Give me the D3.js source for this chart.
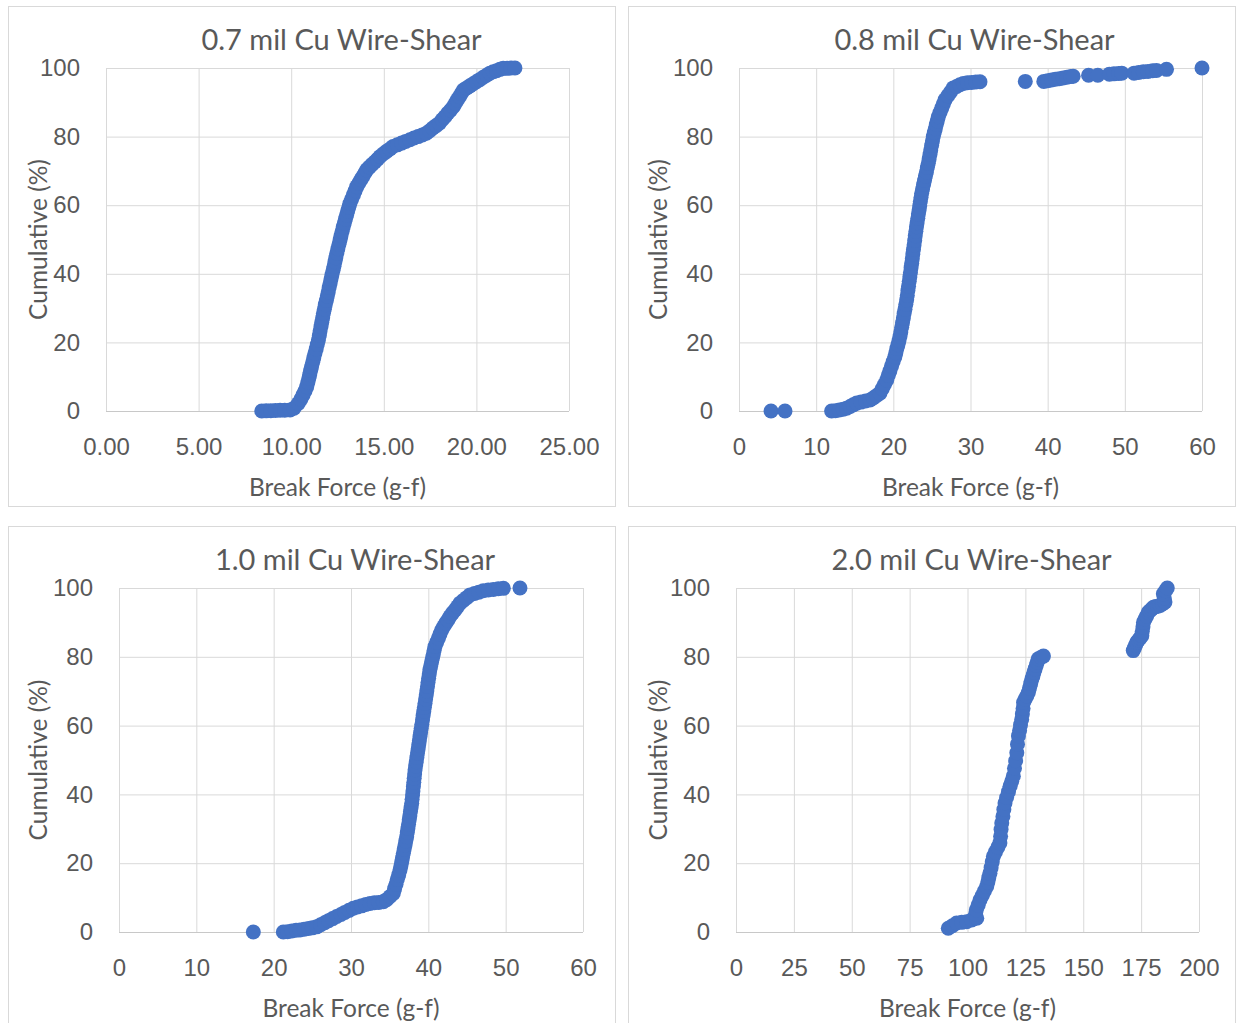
<!DOCTYPE html>
<html>
<head>
<meta charset="utf-8">
<script src="https://cdn.jsdelivr.net/npm/d3@7"></script>
<style>
  body { margin: 0; background: #fff; }
  svg { display: block; font-family: Lato, "Open Sans", sans-serif; }
  .grid line { stroke: #d9d9d9; stroke-width: 1; }
  .ticks text { font-size: 24px; fill: #595959; }
  .title { font-size: 29px; fill: #595959; }
  .axis-title { font-size: 24.5px; fill: #595959; }
</style>
</head>
<body>
<svg id="chart" width="1236" height="1023"></svg>
<script>
/* global d3 */

// [break force (g-f), cumulative (%)]
const shear07 = [
  [8.41, 0], [8.65, 0.05], [8.9, 0.1], [9.15, 0.15], [9.4, 0.2], [9.65, 0.25], [9.94, 0.3],
  [10.15, 0.8], [10.38, 2.2], [10.52, 3.4], [10.64, 4.7], [10.75, 5.9], [10.84, 7.1],
  [10.9, 8.3], [10.95, 9.5], [11.0, 10.6], [11.05, 11.8], [11.1, 12.9],
  [11.16, 14.2], [11.22, 15.5], [11.28, 16.8], [11.35, 18.1], [11.41, 19.4], [11.47, 20.7],
  [11.52, 22], [11.56, 23.3], [11.61, 24.6], [11.65, 25.9], [11.7, 27.2], [11.74, 28.5],
  [11.79, 29.7], [11.84, 31], [11.9, 32.2], [11.95, 33.5], [12.0, 34.7], [12.05, 36], [12.1, 37.2],
  [12.15, 38.5], [12.2, 39.7], [12.26, 41], [12.31, 42.2], [12.36, 43.5], [12.41, 44.7], [12.46, 46],
  [12.52, 47.3], [12.58, 48.6], [12.64, 49.9], [12.69, 51.1], [12.75, 52.4], [12.81, 53.7],
  [12.87, 54.8], [12.93, 56], [12.99, 57.1], [13.05, 58.3], [13.11, 59.4], [13.17, 60.5],
  [13.26, 61.7], [13.36, 63], [13.45, 64.2], [13.54, 65.4],
  [13.65, 66.4], [13.76, 67.4], [13.86, 68.3], [13.97, 69.3], [14.08, 70.3],
  [14.22, 71.1], [14.37, 71.9], [14.51, 72.6], [14.66, 73.4], [14.8, 74.2],
  [14.98, 75], [15.15, 75.7], [15.33, 76.4], [15.5, 77.1],
  [15.73, 77.6], [15.96, 78.1], [16.18, 78.6], [16.41, 79.1],
  [16.63, 79.6], [16.85, 80], [17.08, 80.5], [17.3, 81],
  [17.48, 81.7], [17.65, 82.5], [17.83, 83.2], [18.0, 83.9],
  [18.15, 84.9], [18.3, 85.8], [18.45, 86.8], [18.6, 87.7], [18.75, 88.7],
  [18.86, 89.7], [18.97, 90.7], [19.08, 91.6], [19.19, 92.6], [19.3, 93.6],
  [19.48, 94.2], [19.65, 94.8], [19.83, 95.4], [20.0, 96],
  [20.18, 96.6], [20.37, 97.3], [20.55, 97.9], [20.73, 98.5],
  [20.91, 98.9], [21.09, 99.2], [21.27, 99.6], [21.45, 99.9],
  [21.66, 99.9], [21.87, 100], [22.08, 100]
];

const shear08 = [
  [4.15, 0], [5.96, 0],
  [12.0, 0], [12.5, 0.1], [13.0, 0.3], [13.5, 0.5], [13.95, 0.8],
  [14.4, 1.3], [14.8, 1.8], [15.25, 2.3], [15.8, 2.6], [16.4, 2.9], [16.98, 3.2],
  [17.4, 3.8], [17.85, 4.5], [18.27, 5.2], [18.56, 6.5], [18.85, 7.7], [19.14, 9],
  [19.35, 10.4], [19.56, 11.7], [19.77, 13.1], [19.98, 14.4], [20.2, 15.8],
  [20.33, 17], [20.46, 18.2], [20.6, 19.3], [20.73, 20.5], [20.86, 21.7],
  [20.97, 23], [21.08, 24.4], [21.19, 25.7], [21.3, 27.1], [21.4, 28.4], [21.51, 29.7], [21.62, 31.1], [21.73, 32.4],
  [21.81, 33.7], [21.89, 35.1], [21.97, 36.4], [22.06, 37.8], [22.14, 39.1], [22.22, 40.4], [22.3, 41.8], [22.38, 43.1],
  [22.46, 44.4], [22.53, 45.8], [22.61, 47.1], [22.69, 48.4], [22.77, 49.7], [22.84, 51.1], [22.92, 52.4], [23.0, 53.7],
  [23.08, 54.9], [23.17, 56.2], [23.25, 57.4], [23.34, 58.6], [23.42, 59.8], [23.5, 61.1], [23.59, 62.3], [23.67, 63.5],
  [23.79, 64.7], [23.92, 66], [24.04, 67.2], [24.16, 68.5], [24.29, 69.7], [24.41, 71], [24.53, 72.2],
  [24.64, 73.5], [24.75, 74.8], [24.85, 76.1], [24.96, 77.4], [25.07, 78.7], [25.18, 80],
  [25.31, 81.2], [25.44, 82.3], [25.57, 83.5], [25.7, 84.6], [25.83, 85.8],
  [26.05, 87], [26.27, 88.3], [26.48, 89.5], [26.7, 90.7],
  [27.06, 91.9], [27.41, 93], [27.77, 94.2], [28.2, 94.6], [28.63, 95.1], [29.07, 95.5],
  [29.6, 95.7], [30.15, 95.8], [30.7, 95.9], [31.23, 96],
  [37.1, 96.1], [39.5, 96.1], [40.0, 96.3], [40.5, 96.5], [41.0, 96.7], [41.5, 96.9],
  [42.0, 97.1], [42.5, 97.3], [43.0, 97.5], [43.3, 97.6], [45.3, 97.9], [46.5, 97.9],
  [48.0, 98.2], [48.6, 98.3], [49.2, 98.4], [49.6, 98.5], [51.2, 98.5], [51.8, 98.7],
  [52.4, 98.9], [53.0, 99.0], [53.6, 99.2], [54.1, 99.3], [55.4, 99.6], [60.0, 100]
];

const shear10 = [
  [17.37, 0],
  [21.25, 0], [21.8, 0.1], [22.35, 0.3], [22.9, 0.5], [23.4, 0.6],
  [23.95, 0.8], [24.5, 1.0], [25.0, 1.2], [25.56, 1.5],
  [26.08, 2.1], [26.6, 2.7], [27.1, 3.3], [27.63, 3.9], [28.15, 4.5],
  [28.7, 5.1], [29.2, 5.7], [29.75, 6.3], [30.3, 6.9],
  [30.84, 7.3], [31.38, 7.6], [31.92, 8.0], [32.46, 8.3],
  [33.03, 8.5], [33.6, 8.6], [34.18, 8.8], [34.6, 9.4], [35.05, 10.3], [35.47, 11.2],
  [35.64, 12.6], [35.82, 13.9], [35.99, 15.3], [36.17, 16.6], [36.34, 18],
  [36.45, 19.2], [36.56, 20.4], [36.66, 21.6], [36.77, 22.9], [36.88, 24.1], [36.99, 25.3], [37.09, 26.5], [37.2, 27.7],
  [37.28, 28.9], [37.36, 30.1], [37.44, 31.3], [37.53, 32.6], [37.61, 33.8], [37.69, 35], [37.77, 36.2], [37.85, 37.4],
  [37.9, 38.6], [37.96, 39.8], [38.01, 41], [38.07, 42.3], [38.12, 43.5], [38.17, 44.7], [38.23, 45.9], [38.28, 47.1],
  [38.36, 48.3], [38.44, 49.5], [38.52, 50.7], [38.6, 52], [38.68, 53.2], [38.76, 54.4], [38.84, 55.6], [38.92, 56.8],
  [39.0, 58], [39.08, 59.2], [39.16, 60.4], [39.25, 61.7], [39.33, 62.9], [39.41, 64.1], [39.49, 65.3], [39.57, 66.5],
  [39.65, 67.7], [39.73, 68.9], [39.81, 70.1], [39.89, 71.4], [39.96, 72.6], [40.04, 73.8], [40.12, 75], [40.2, 76.2],
  [40.31, 77.3], [40.42, 78.5], [40.53, 79.6], [40.64, 80.7], [40.75, 81.9], [40.86, 83],
  [41.08, 84.2], [41.3, 85.4], [41.51, 86.6], [41.73, 87.8],
  [41.99, 88.8], [42.26, 89.8], [42.53, 90.7], [42.8, 91.7],
  [43.12, 92.7], [43.45, 93.6], [43.78, 94.6], [44.1, 95.6],
  [44.53, 96.4], [44.97, 97.2], [45.4, 98], [45.97, 98.4], [46.53, 98.8], [47.1, 99.2],
  [47.75, 99.4], [48.4, 99.6], [49.05, 99.8], [49.7, 99.9], [51.85, 100]
];

const shear20 = [
  [91.7, 1.1], [93.5, 1.8], [95.3, 2.6], [97.5, 2.8], [99.6, 3.0], [101.8, 3.5], [104, 4.0],
  [103.5, 5.2], [103.8, 6.4], [104.6, 7.8], [105.4, 9.3], [106.4, 10.6], [107.3, 11.9], [108.3, 13.2],
  [108.8, 14.5], [109.2, 15.8], [109.7, 17.1], [110.2, 18.7], [110.7, 20.4], [111.2, 22],
  [112.1, 23.3], [113.1, 24.6], [114, 25.9], [114.3, 27.8], [114.5, 29.8], [114.8, 31.7],
  [115.3, 33.6], [115.7, 35.6], [116.2, 37.5], [116.9, 39.1], [117.7, 40.8], [118.4, 42.4],
  [119.1, 43.8], [119.8, 45.3], [120.3, 47.6], [120.8, 49.8], [121.3, 52.1], [121.6, 54.6], [122, 57],
  [122.5, 58.6], [122.9, 60.2], [123.4, 61.8], [123.7, 63.4], [124, 65], [124.2, 66.7],
  [124.9, 67.7], [125.6, 68.6], [126.3, 69.6], [126.8, 70.9], [127.3, 72.2], [127.8, 73.5],
  [128.3, 74.5], [128.7, 75.5], [129.2, 76.5], [129.7, 77.5], [130.1, 78.4], [130.6, 79.4],
  [131.7, 79.8], [132.8, 80.2],
  [171.6, 81.8], [172.1, 82.6], [172.6, 83.4], [173.1, 84.2], [173.8, 84.8], [174.6, 85.5], [175.3, 86.1],
  [175.5, 87.4], [175.8, 88.7], [176, 90], [176.7, 91], [177.4, 91.9], [178.1, 92.9],
  [178.8, 93.4], [179.6, 93.9], [180.3, 94.4], [181.3, 94.6], [182.2, 94.7], [183.2, 94.9],
  [184.2, 95.4], [185.3, 95.9], [185, 97.1], [184.6, 98.3], [185.5, 99.2], [186.3, 100]
];

const yTicks = [0, 20, 40, 60, 80, 100];
const xTicks07 = [0, 5, 10, 15, 20, 25];
const xTicks08 = [0, 10, 20, 30, 40, 50, 60];
const xTicks10 = [0, 10, 20, 30, 40, 50, 60];
const xTicks20 = [0, 25, 50, 75, 100, 125, 150, 175, 200];

const panels = [
  { title: "0.7 mil Cu Wire-Shear", data: shear07, xTicks: xTicks07, fmt: d3.format(".2f"),
    box: [8, 6, 607, 500], plot: [106, 68, 463, 343] },
  { title: "0.8 mil Cu Wire-Shear", data: shear08, xTicks: xTicks08, fmt: d3.format("d"),
    box: [628, 6, 607, 500], plot: [739, 68, 463, 343] },
  { title: "1.0 mil Cu Wire-Shear", data: shear10, xTicks: xTicks10, fmt: d3.format("d"),
    box: [8, 526, 607, 510], plot: [119, 588, 464, 344] },
  { title: "2.0 mil Cu Wire-Shear", data: shear20, xTicks: xTicks20, fmt: d3.format("d"),
    box: [628, 526, 607, 510], plot: [736, 588, 463, 344] }
];

const svg = d3.select("#chart");

function drawPanel(p) {
  const [bx, by, bw, bh] = p.box;
  const [px, py, pw, ph] = p.plot;
  const g = svg.append("g");

  g.append("rect")
    .attr("x", bx + 0.5)
    .attr("y", by + 0.5)
    .attr("width", bw)
    .attr("height", bh)
    .attr("fill", "#fff")
    .attr("stroke", "#d9d9d9");

  const x = d3
    .scaleLinear()
    .domain(d3.extent(p.xTicks))
    .range([px, px + pw]);
  const y = d3
    .scaleLinear()
    .domain([0, 100])
    .range([py + ph, py]);

  // gridlines
  g.append("g")
    .attr("class", "grid")
    .attr("transform", `translate(0,${py + ph})`)
    .call(d3.axisBottom(x).tickValues(p.xTicks).tickSize(-ph).tickFormat(""))
    .call(a => a.select(".domain").remove());
  g.append("g")
    .attr("class", "grid")
    .attr("transform", `translate(${px},0)`)
    .call(d3.axisLeft(y).tickValues(yTicks).tickSize(-pw).tickFormat(""))
    .call(a => a.select(".domain").remove());

  g.append("line")
    .attr("x1", px)
    .attr("x2", px + pw)
    .attr("y1", y(0) + 0.5)
    .attr("y2", y(0) + 0.5)
    .attr("stroke", "#c8c8c8");

  // tick labels
  g.append("g")
    .attr("class", "ticks")
    .attr("transform", `translate(0,${py + ph})`)
    .call(d3.axisBottom(x).tickValues(p.xTicks).tickSize(0).tickFormat(p.fmt))
    .call(a => {
      a.select(".domain").remove();
      a.selectAll("text").attr("y", 44).attr("dy", null);
    });
  g.append("g")
    .attr("class", "ticks")
    .attr("transform", `translate(${px},0)`)
    .call(d3.axisLeft(y).tickValues(yTicks).tickSize(0).tickPadding(26))
    .call(a => a.select(".domain").remove());

  // titles
  g.append("text")
    .attr("class", "title")
    .attr("text-anchor", "middle")
    .attr("x", px + pw / 2 + 4)
    .attr("y", py - 18)
    .text(p.title);
  g.append("text")
    .attr("class", "axis-title")
    .attr("text-anchor", "middle")
    .attr("x", px + pw / 2)
    .attr("y", py + ph + 85)
    .text("Break Force (g-f)");
  g.append("text")
    .attr("class", "axis-title")
    .attr("text-anchor", "middle")
    .attr("transform", `translate(${bx + 39},${py + ph / 2}) rotate(-90)`)
    .text("Cumulative (%)");

  // markers
  g.append("g")
    .selectAll("circle")
    .data(p.data)
    .enter()
    .append("circle")
    .attr("cx", d => x(d[0]))
    .attr("cy", d => y(d[1]))
    .attr("r", 7.5)
    .attr("fill", "#4472c4");
}

panels.forEach(drawPanel);
</script>
</body>
</html>
